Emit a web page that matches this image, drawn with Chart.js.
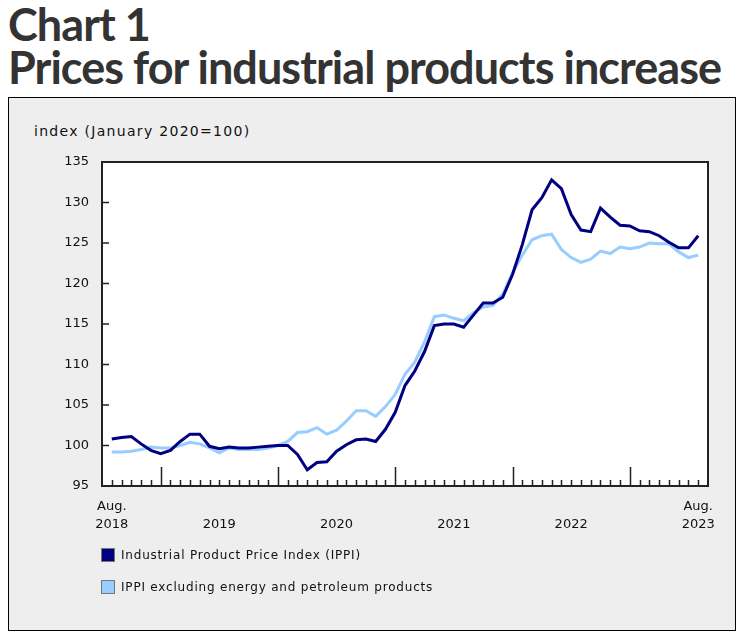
<!DOCTYPE html>
<html><head><meta charset="utf-8">
<script src="https://cdn.jsdelivr.net/npm/chart.js@4.4.0/dist/chart.umd.min.js"></script>
<style>
html,body{margin:0;padding:0;background:#fff;}
body{width:745px;height:637px;position:relative;overflow:hidden;}
.ttl{position:absolute;left:8px;font-family:Lato;font-weight:700;font-size:45px;letter-spacing:-0.95px;line-height:54px;color:#333;white-space:nowrap;}
#box{position:absolute;left:8px;top:97px;width:726px;height:532px;border:1px solid #000;background:#eeeeee;}
#ytitle{position:absolute;left:25px;top:24px;font-family:'DejaVu Sans';font-size:14px;letter-spacing:1.3px;line-height:18px;color:#111;white-space:nowrap;}
#chart{position:absolute;left:0;top:0;}
#legend{position:absolute;left:92px;top:450px;font-family:'DejaVu Sans';font-size:12px;letter-spacing:0.8px;color:#111;}
.li{display:flex;align-items:center;height:14px;margin-bottom:18px;white-space:nowrap;}
.sw{width:14px;height:14px;box-sizing:border-box;border:1px solid #777;margin-right:6px;}
</style>
</head><body>
<div class="ttl" style="top:-3px">Chart 1</div>
<div class="ttl" style="top:40px">Prices for industrial products increase</div>
<div id="box">
  <div id="ytitle">index (January 2020=100)</div>
  <canvas id="chart" width="726" height="532"></canvas>
  <div id="legend"></div>
</div>
<script>
const months = [
 'Aug 2018','Sep 2018','Oct 2018','Nov 2018','Dec 2018',
 'Jan 2019','Feb 2019','Mar 2019','Apr 2019','May 2019','Jun 2019','Jul 2019','Aug 2019','Sep 2019','Oct 2019','Nov 2019','Dec 2019',
 'Jan 2020','Feb 2020','Mar 2020','Apr 2020','May 2020','Jun 2020','Jul 2020','Aug 2020','Sep 2020','Oct 2020','Nov 2020','Dec 2020',
 'Jan 2021','Feb 2021','Mar 2021','Apr 2021','May 2021','Jun 2021','Jul 2021','Aug 2021','Sep 2021','Oct 2021','Nov 2021','Dec 2021',
 'Jan 2022','Feb 2022','Mar 2022','Apr 2022','May 2022','Jun 2022','Jul 2022','Aug 2022','Sep 2022','Oct 2022','Nov 2022','Dec 2022',
 'Jan 2023','Feb 2023','Mar 2023','Apr 2023','May 2023','Jun 2023','Jul 2023','Aug 2023'
];
const ippi = [
 100.8,101.0,101.1,100.2,99.4,
 99.0,99.4,100.5,101.4,101.4,99.9,99.6,99.8,99.7,99.7,99.8,99.9,
 100.0,100.0,98.9,97.0,97.9,98.0,99.3,100.1,100.7,100.8,100.5,102.0,
 104.1,107.4,109.2,111.6,114.8,115.0,115.0,114.6,116.1,117.6,117.6,118.3,
 121.1,124.8,129.1,130.6,132.8,131.7,128.5,126.6,126.4,129.3,128.2,127.2,
 127.1,126.5,126.4,125.9,125.1,124.4,124.4,125.9
];
const ippiExEnergy = [
 99.2,99.2,99.3,99.5,99.8,
 99.7,99.7,100.0,100.4,100.2,99.7,99.1,99.7,99.5,99.5,99.5,99.7,
 100.0,100.5,101.6,101.7,102.2,101.4,101.9,103.0,104.3,104.3,103.6,104.8,
 106.3,108.8,110.3,112.8,115.9,116.1,115.7,115.4,116.4,117.1,117.3,118.7,
 121.3,123.5,125.4,125.9,126.1,124.2,123.2,122.6,123.0,124.0,123.7,124.5,
 124.3,124.5,125.0,124.9,124.9,123.9,123.2,123.5
];
const seriesNames = ['Industrial Product Price Index (IPPI)','IPPI excluding energy and petroleum products'];
const seriesColors = ['#000080','#99ccff'];
const yTicks = [95,100,105,110,115,120,125,130,135];
const xTickIndex = [0,11,23,35,47,60];
const xTickLabels = [['Aug.','2018'],['','2019'],['','2020'],['','2021'],['','2022'],['Aug.','2023']];

const toPoints = arr => arr.map((v,i)=>({x:i,y:v}));

const framePlugin = {
  id:'frame',
  beforeDraw(chart){
    const {ctx, chartArea:a} = chart;
    ctx.save(); ctx.fillStyle='#fff';
    ctx.fillRect(a.left,a.top,a.right-a.left,a.bottom-a.top);
    ctx.restore();
  },
  afterDraw(chart){
    const {ctx, chartArea:a, scales} = chart;
    ctx.save();
    ctx.strokeStyle='#222';
    ctx.lineWidth=1.5;
    ctx.beginPath();
    months.forEach((m,i)=>{
      const x = Math.round(scales.x.getPixelForValue(i))+0.5;
      const len = m.startsWith('Jan') ? 19 : 6;
      ctx.moveTo(x,a.bottom); ctx.lineTo(x,a.bottom-len);
    });
    yTicks.forEach(v=>{
      const y = scales.y.getPixelForValue(v);
      ctx.moveTo(a.left,y); ctx.lineTo(a.left+7,y);
    });
    ctx.stroke();
    ctx.lineWidth=2;
    ctx.strokeRect(a.left,a.top,a.right-a.left,a.bottom-a.top);
    ctx.restore();
  }
};

const chart = new Chart(document.getElementById('chart'),{
  type:'line',
  data:{datasets:[
    {label:seriesNames[0],data:toPoints(ippi),borderColor:seriesColors[0],backgroundColor:seriesColors[0],borderWidth:3,pointRadius:0,tension:0},
    {label:seriesNames[1],data:toPoints(ippiExEnergy),borderColor:seriesColors[1],backgroundColor:seriesColors[1],borderWidth:3,pointRadius:0,tension:0}
  ]},
  options:{
    responsive:false,animation:false,devicePixelRatio:1,
    layout:{padding:{left:0,top:64,right:27,bottom:0}},
    plugins:{legend:{display:false},tooltip:{enabled:false}},
    scales:{
      x:{type:'linear',min:-1,max:61,
        grid:{display:false,drawTicks:false},border:{display:false},
        afterBuildTicks:s=>{s.ticks=xTickIndex.map(v=>({value:v}));},
        ticks:{autoSkip:false,maxRotation:0,minRotation:0,padding:12,color:'#111',
          font:{family:'DejaVu Sans',size:13,lineHeight:1.35},
          callback:(v,i)=>xTickLabels[i]},
        afterFit:s=>{s.height=144;}
      },
      y:{min:95,max:135,
        grid:{display:false,drawTicks:false},border:{display:false},
        afterBuildTicks:s=>{s.ticks=yTicks.map(v=>({value:v}));},
        ticks:{padding:13,color:'#111',font:{family:'DejaVu Sans',size:13}},
        afterFit:s=>{s.width=93;}
      }
    }
  },
  plugins:[framePlugin]
});

const leg = document.getElementById('legend');
chart.data.datasets.forEach(ds=>{
  const row=document.createElement('div'); row.className='li';
  const sw=document.createElement('span'); sw.className='sw'; sw.style.background=ds.borderColor;
  const tx=document.createElement('span'); tx.textContent=ds.label;
  row.appendChild(sw); row.appendChild(tx); leg.appendChild(row);
});
</script>
</body></html>
